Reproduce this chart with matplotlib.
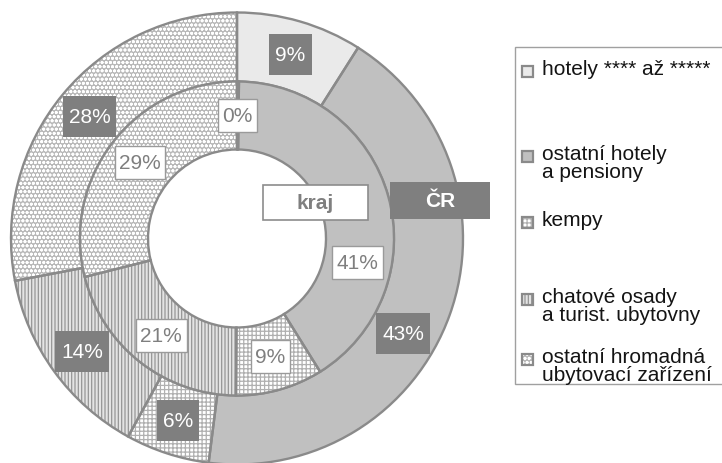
import numpy as np
import matplotlib
matplotlib.use("Agg")
import matplotlib.pyplot as plt
from matplotlib.patches import Rectangle

plt.rcParams['font.family'] = ['Liberation Sans', 'DejaVu Sans']
plt.rcParams['hatch.linewidth'] = 0.9

# data
categories = ["hotely **** až *****", "ostatní hotely\na pensiony", "kempy",
              "chatové osady\na turist. ubytovny", "ostatní hromadná\nubytovací zařízení"]
cr_values = [9, 43, 6, 14, 28]
kraj_values = [0.2, 41, 9, 21, 29]

# styles per category
faces = ['#eaeaea', '#c0c0c0', '#ffffff', '#e4e4e4', '#b8b8b8']
hatches = [None, None, '++++', '|||||', 'oooo']
hatch_cols = ['#eaeaea', '#c0c0c0', '#b0b0b0', '#969696', '#ffffff']
EDGE = '#8a8a8a'
LABEL_DARK = '#7f7f7f'

W, H = 722, 464
CX, CY = 237, H - 239.5
R_OUT, R_MID, R_IN = 226, 157, 89

fig = plt.figure(figsize=(W / 100, H / 100), dpi=100)
ax = fig.add_axes([0, 0, 1, 1])


def ring(values, radius, width):
    wedges, _ = ax.pie(values, radius=radius, center=(CX, CY), startangle=90,
                       counterclock=False, colors=faces, frame=True,
                       wedgeprops=dict(width=width, linewidth=0))
    for w, h, hc in zip(wedges, hatches, hatch_cols):
        w.set_edgecolor(hc)
        if h:
            w.set_hatch(h)
    ax.pie(values, radius=radius, center=(CX, CY), startangle=90,
           counterclock=False, frame=True,
           wedgeprops=dict(width=width, fill=False, edgecolor=EDGE, linewidth=1.7))
    return wedges


outer = ring(cr_values, R_OUT, R_OUT - R_MID)
inner = ring(kraj_values, R_MID, R_MID - R_IN)
ax.set_xlim(0, W)
ax.set_ylim(0, H)
ax.set_autoscale_on(False)
ax.axis('off')

# labels moved by hand in the original (angle offsets, degrees)
nudge_out = {1: -10}
nudge_in = {1: -27}

labels = []  # (text, pad_x, pad_y, face, edge)
for i, (w, v) in enumerate(zip(outer, cr_values)):
    a = np.deg2rad((w.theta1 + w.theta2) / 2 + nudge_out.get(i, 0))
    r = (R_OUT + R_MID) / 2
    t = ax.text(CX + r * np.cos(a), CY + r * np.sin(a), f"{v:.0f}%", ha='center', va='center',
                fontsize=15, color='white', zorder=5)
    labels.append((t, 6, 11, LABEL_DARK, 'none'))

for i, (w, v) in enumerate(zip(inner, kraj_values)):
    a = np.deg2rad((w.theta1 + w.theta2) / 2 + nudge_in.get(i, 0))
    r = (R_MID + R_IN) / 2
    t = ax.text(CX + r * np.cos(a), CY + r * np.sin(a), f"{v:.0f}%", ha='center', va='center',
                fontsize=15, color=LABEL_DARK, zorder=5)
    labels.append((t, 4.5, 7, 'white', '#9a9a9a'))

fig.canvas.draw()
renderer = fig.canvas.get_renderer()
for t, px, py, fc, ec in labels:
    bb = t.get_window_extent(renderer)
    ax.add_patch(Rectangle((bb.x0 - px, bb.y0 - py), bb.width + 2 * px, bb.height + 2 * py,
                           facecolor=fc, edgecolor=ec, linewidth=1, zorder=4))

# series name labels
ax.add_patch(Rectangle((263, H - 221), 105, 35, facecolor='white', edgecolor='#8c8c8c', linewidth=1.2))
ax.text(315.5, H - 203.5, "kraj", ha='center', va='center', fontsize=15, fontweight='bold', color='#7f7f7f')
ax.add_patch(Rectangle((390, H - 220), 100, 37, facecolor=LABEL_DARK, edgecolor='none'))
ax.text(440, H - 201.5, "ČR", ha='center', va='center', fontsize=15, fontweight='bold', color='white')

# legend
ax.add_patch(Rectangle((515, H - 385), 240, 337, facecolor='white', edgecolor='#a0a0a0', linewidth=1, clip_on=False))
leg_y = [72, 157, 223, 300, 360]
for lab, fc, h, hc, y in zip(categories, faces, hatches, hatch_cols, leg_y):
    ax.add_patch(Rectangle((522, H - y - 5.5), 11, 11, facecolor=fc, edgecolor=hc, hatch=h, linewidth=0))
    ax.add_patch(Rectangle((522, H - y - 5.5), 11, 11, fill=False, edgecolor=EDGE, linewidth=1.6))
    ax.text(542, H - y + 12, lab, ha='left', va='top', fontsize=15, color='#141414',
            linespacing=0.95)

fig.savefig('out.png', dpi=100)
